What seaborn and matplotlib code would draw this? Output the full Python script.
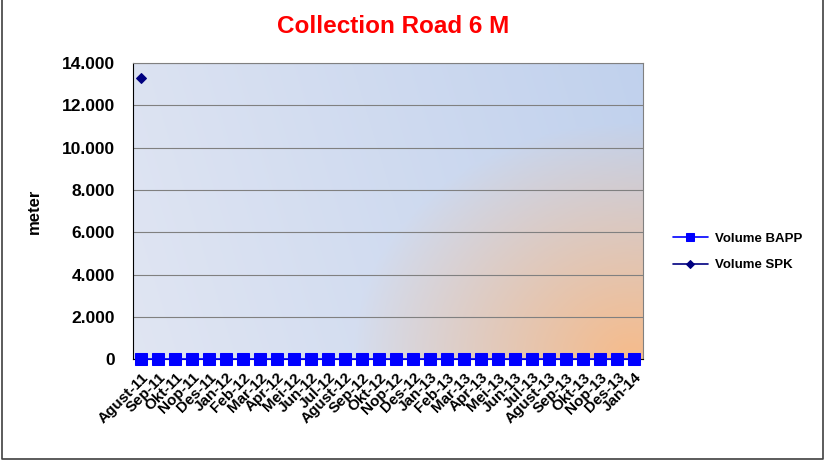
import numpy as np
import pandas as pd
import matplotlib
matplotlib.use("Agg")
import matplotlib.pyplot as plt
import matplotlib.ticker as mticker
from matplotlib.lines import Line2D
import seaborn as sns

months = ["Agust-11", "Sep-11", "Okt-11", "Nop-11", "Des-11", "Jan-12", "Feb-12",
          "Mar-12", "Apr-12", "Mei-12", "Jun-12", "Jul-12", "Agust-12", "Sep-12",
          "Okt-12", "Nop-12", "Des-12", "Jan-13", "Feb-13", "Mar-13", "Apr-13",
          "Mei-13", "Jun-13", "Jul-13", "Agust-13", "Sep-13", "Okt-13", "Nop-13",
          "Des-13", "Jan-14"]
volume_bapp = [0] * 30
volume_spk = [13300] + [np.nan] * 29

sns.set_style("white")
plt.rcParams["font.family"] = ["Liberation Sans", "DejaVu Sans"]
plt.rcParams["text.color"] = "black"
plt.rcParams["axes.labelcolor"] = "black"
plt.rcParams["xtick.color"] = "black"
plt.rcParams["ytick.color"] = "black"

df = pd.DataFrame({"idx": np.arange(len(months)), "bapp": volume_bapp, "spk": volume_spk})

fig = plt.figure(figsize=(8.25, 4.61), dpi=100)
ax = fig.add_axes([0.161, 0.221, 0.618, 0.642])

# gradient background: light blue, orange glow in the lower right corner
ny, nx = 200, 300
yy, xx = np.mgrid[0:1:ny * 1j, 0:1:nx * 1j]
blue_l = np.array([0.880, 0.900, 0.952])
blue_d = np.array([0.755, 0.820, 0.930])
orange = np.array([0.965, 0.735, 0.545])
t = np.clip(xx * 0.85 + yy * 0.15, 0, 1)
base = blue_l[None, None, :] * (1 - t[..., None]) + blue_d[None, None, :] * t[..., None]
d = np.sqrt(((xx - 0.98) / 0.55) ** 2 + ((yy - 0.0) / 0.8) ** 2)
w = np.clip(1 - d, 0, 1) ** 0.95
img = base * (1 - w[..., None]) + orange[None, None, :] * w[..., None]
ax.imshow(img, extent=[0, 1, 0, 1], transform=ax.transAxes, origin="lower",
          aspect="auto", zorder=0)

sns.lineplot(data=df, x="idx", y="bapp", ax=ax, color="#0000ff", marker="s",
             markersize=8.5, markeredgecolor="#0000ff", linewidth=1.2,
             label="Volume BAPP", clip_on=False, zorder=3)
sns.lineplot(data=df, x="idx", y="spk", ax=ax, color="#000080", marker="D",
             markersize=5.5, markeredgecolor="#000080", linewidth=1.2,
             label="Volume SPK", clip_on=False, zorder=3)

ax.set_xlim(-0.5, len(months) - 0.5)
ax.set_ylim(0, 14000)
ax.yaxis.set_major_locator(mticker.MultipleLocator(2000))
ax.yaxis.set_major_formatter(mticker.FuncFormatter(lambda v, p: f"{int(v):,}".replace(",", ".")))
ax.grid(axis="y", color="#808080", linewidth=0.8, zorder=1)
ax.set_axisbelow(True)
ax.set_xticks(np.arange(len(months)))
ax.set_xticklabels(months, rotation=45, ha="right", rotation_mode="anchor",
                   fontsize=11, fontweight="bold")
for lab in ax.get_yticklabels():
    lab.set_fontweight("bold")
    lab.set_fontsize(12.5)
ax.tick_params(axis="x", length=0, pad=8)
ax.tick_params(axis="y", length=0, pad=13)
ax.set_xlabel("")
ax.set_ylabel("meter", fontsize=12, fontweight="bold", labelpad=14)
for s in ax.spines.values():
    s.set_color("#808080")
    s.set_linewidth(0.8)
ax.spines["left"].set_color("black")
ax.spines["bottom"].set_color("black")

fig.suptitle("Collection Road 6 M", color="#ff0000", fontsize=17.5,
             fontweight="bold", x=0.476, y=0.968)

ax.legend(loc="center left", bbox_to_anchor=(1.059, 0.362), frameon=False,
          prop={"weight": "bold", "size": 9.5}, handlelength=2.65,
          labelspacing=1.05, handletextpad=0.55, borderpad=0, borderaxespad=0,
          markerscale=0.75)

# figure frame: left, bottom, right
fig.add_artist(Line2D([0.002, 0.002, 0.997, 0.997], [1.0, 0.004, 0.004, 1.0],
                      transform=fig.transFigure, color="#404040", linewidth=1.2))

fig.savefig("out.png", dpi=100)
